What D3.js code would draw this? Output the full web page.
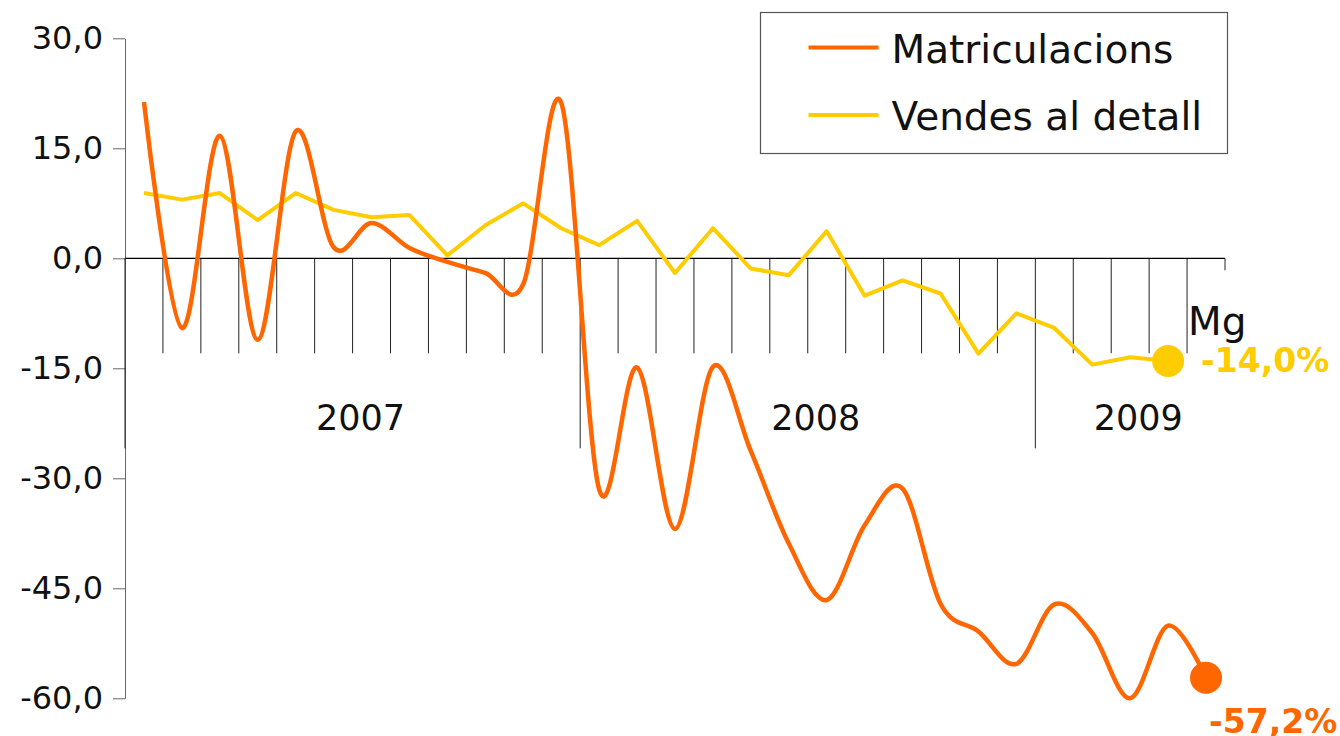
<!DOCTYPE html>
<html>
<head>
<meta charset="utf-8">
<script src="https://cdn.jsdelivr.net/npm/d3@7"></script>
<style>
  body { margin: 0; background: #fff; }
  text { font-family: "DejaVu Sans", sans-serif; }
</style>
</head>
<body>
<svg id="mainsvg" width="1340" height="736"></svg>
<script>
// dades mensuals, gener 2007 - maig 2009
const monthNames = ['Gn', 'Fb', 'Mç', 'Ab', 'Mg', 'Jn', 'Jl', 'Ag', 'St', 'Oc', 'Nv', 'Ds'];
const years = [2007, 2008, 2009];
const monthsPerYear = [12, 12, 5];
const matriculacions = [
  21.3, -9.5, 16.7, -11.1, 17.3, 1.5, 4.8, 1.4, -0.5, -2.0, -3.5, 21.2,
  -31.5, -14.9, -36.9, -14.8, -26.3, -38.9, -46.6, -36.4, -31.4, -47.1, -50.9, -55.3,
  -47.2, -51.1, -60.0, -50.1, -57.2
];
const vendes = [
  8.9, 8.0, 8.9, 5.2, 8.9, 6.6, 5.6, 5.9, 0.4, 4.5, 7.5, 4.1,
  1.8, 5.1, -2.0, 4.1, -1.4, -2.3, 3.7, -5.1, -3.0, -4.8, -13.0, -7.5,
  -9.5, -14.5, -13.5, -14.0
];
const yTicks = [30, 15, 0, -15, -30, -45, -60];
const series = ['Matriculacions', 'Vendes al detall'];
const colors = ['#ff6600', '#ffcc00'];

const svg = d3.select('#mainsvg');
const width = +svg.attr('width');
const height = +svg.attr('height');
const margin = { top: 38.3, right: 115, bottom: 37.7, left: 125 };
const innerWidth = width - margin.left - margin.right;
const innerHeight = height - margin.top - margin.bottom;
const g = svg.append('g')
  .attr('transform', `translate(${margin.left}, ${margin.top})`);

const categories = [];
years.forEach((yr, i) => {
  for (let m = 0; m < monthsPerYear[i]; m++)
    categories.push({ key: monthNames[m] + ' ' + yr, year: yr, month: monthNames[m] });
});
const keys = categories.map(d => d.key);

const x = d3.scaleBand().domain(keys).range([0, innerWidth]);
const xc = k => x(k) + x.bandwidth() / 2;
const y = d3.scaleLinear().domain([-60, 30]).range([innerHeight, 0]);
const y0 = y(0);

const ca = d3.formatLocale({ decimal: ',', thousands: '.', grouping: [3], currency: ['', '€'], minus: '-' });

// eix vertical
const yAxis = g.append('g')
  .call(d3.axisLeft(y).tickValues(yTicks).tickSize(12).tickSizeOuter(0).tickPadding(10)
    .tickFormat(ca.format('.1f')));
yAxis.select('.domain').attr('stroke', '#666');
yAxis.selectAll('.tick line').attr('stroke', '#666');
yAxis.selectAll('.tick text')
  .attr('font-size', 32)
  .attr('fill', '#111')
  .attr('font-family', '"DejaVu Sans", sans-serif');

// eix horitzontal amb marques als límits dels mesos
const bounds = categories.map((d, i) => ({
  x: x(d.key),
  len: d.month === 'Gn' ? 190 : 95
}));
bounds.push({ x: innerWidth, len: 12 });

g.append('g').selectAll('line').data(bounds).join('line')
  .attr('x1', d => d.x).attr('x2', d => d.x)
  .attr('y1', y0).attr('y2', d => y0 + d.len)
  .attr('stroke', '#222')
  .attr('stroke-width', 1);

g.append('line')
  .attr('x1', 0).attr('x2', innerWidth)
  .attr('y1', y0).attr('y2', y0)
  .attr('stroke', '#000')
  .attr('stroke-width', 1.3);

// etiquetes d'any
g.selectAll('text.year').data(years).join('text')
  .attr('class', 'year')
  .attr('x', yr => {
    const ks = categories.filter(c => c.year === yr).map(c => c.key);
    return (x(ks[0]) + x(ks[ks.length - 1]) + x.bandwidth()) / 2 + 8;
  })
  .attr('y', y0 + 172)
  .attr('text-anchor', 'middle')
  .attr('font-size', 35)
  .attr('fill', '#111')
  .text(yr => yr);

const last = categories[categories.length - 1];
g.append('text')
  .attr('x', xc(last.key) - 18)
  .attr('y', y0 + 77)
  .attr('font-size', 39)
  .attr('fill', '#111')
  .text(last.month);

// línies
const lineSmooth = d3.line()
  .x((d, i) => xc(keys[i]))
  .y(d => y(d))
  .curve(d3.curveCatmullRom.alpha(0));
const lineStraight = d3.line()
  .x((d, i) => xc(keys[i]))
  .y(d => y(d));

g.append('path')
  .attr('d', lineStraight(vendes))
  .attr('fill', 'none')
  .attr('stroke', colors[1])
  .attr('stroke-width', 4)
  .attr('stroke-linejoin', 'round');

g.append('path')
  .attr('d', lineSmooth(matriculacions))
  .attr('fill', 'none')
  .attr('stroke', colors[0])
  .attr('stroke-width', 4.5)
  .attr('stroke-linejoin', 'round');

// punts finals amb valor
const ends = [
  { v: matriculacions[matriculacions.length - 1], i: matriculacions.length - 1, c: colors[0], dx: 3, dy: 55 },
  { v: vendes[vendes.length - 1], i: vendes.length - 1, c: colors[1], dx: 33, dy: 11 }
];
g.selectAll('circle.end').data(ends).join('circle')
  .attr('class', 'end')
  .attr('cx', d => xc(keys[d.i]))
  .attr('cy', d => y(d.v))
  .attr('r', 16)
  .attr('fill', d => d.c);
g.selectAll('text.end').data(ends).join('text')
  .attr('class', 'end')
  .attr('x', d => xc(keys[d.i]) + d.dx)
  .attr('y', d => y(d.v) + d.dy)
  .attr('font-size', 33)
  .attr('font-weight', 'bold')
  .attr('fill', d => d.c)
  .text(d => ca.format('.1f')(d.v) + '%');

// llegenda
const legend = svg.append('g').attr('transform', 'translate(760.5, 12.5)');
legend.append('rect')
  .attr('width', 467).attr('height', 141)
  .attr('fill', '#fff')
  .attr('stroke', '#555')
  .attr('stroke-width', 1.2);
const items = legend.selectAll('g').data(series).join('g')
  .attr('transform', (d, i) => `translate(0, ${35 + i * 67.5})`);
items.append('line')
  .attr('x1', 48).attr('x2', 118)
  .attr('stroke', (d, i) => colors[i])
  .attr('stroke-width', 4);
items.append('text')
  .attr('x', 131)
  .attr('y', 15)
  .attr('font-size', 39)
  .attr('fill', '#111')
  .text(d => d);
</script>
</body>
</html>
